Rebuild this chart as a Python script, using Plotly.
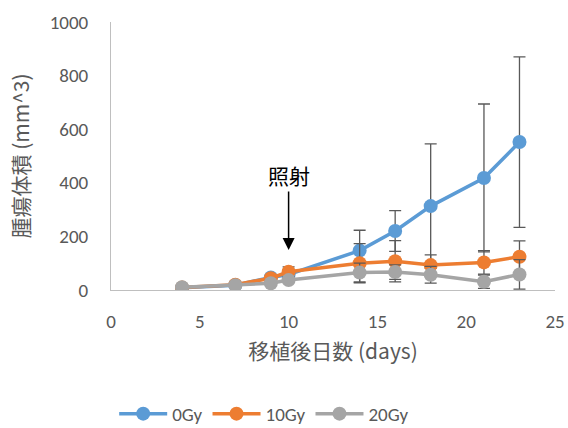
import plotly.graph_objects as go

# Tumour volume (mm^3) by days after implantation, mean ± error
days = [4, 7, 9, 10, 14, 16, 18, 21, 23]

gy0 = [8, 18, 47, 58, 147, 220, 313, 418, 552]
gy0_err = [3, 5, 10, 12, 76, 76, 232, 276, 318]

gy10 = [9, 20, 44, 68, 100, 107, 93, 103, 124]
gy10_err = [3, 5, 8, 18, 73, 77, 38, 44, 59]

gy20 = [10, 18, 25, 37, 65, 67, 57, 31, 58]
gy20_err = [3, 4, 6, 8, 35, 27, 31, 25, 55]

series_names = ["0Gy", "10Gy", "20Gy"]
colors = ["#5B9BD5", "#ED7D31", "#A5A5A5"]

x_ticks = [0, 5, 10, 15, 20, 25]
y_ticks = [0, 200, 400, 600, 800, 1000]

irradiation_day = 10
irradiation_label = "照射"

FONT = "Calibri, Carlito, Lato, 'Noto Sans CJK JP', sans-serif"
CJK = "'Noto Sans CJK JP', sans-serif"
TEXT_GREY = "#595959"

fig = go.Figure()
for name, vals, errs, col in zip(series_names, [gy0, gy10, gy20],
                                 [gy0_err, gy10_err, gy20_err], colors):
    fig.add_trace(go.Scatter(
        x=days, y=vals, name=name, mode="lines+markers",
        line=dict(color=col, width=3.5),
        marker=dict(color=col, size=14),
        error_y=dict(type="data", array=errs, visible=True,
                     color="#595959", thickness=1.3, width=6),
    ))

fig.add_annotation(
    x=irradiation_day, y=149, xref="x", yref="y",
    text=irradiation_label, showarrow=True,
    ax=0, ay=-75, arrowhead=2, arrowsize=1.6, arrowwidth=1.5,
    arrowcolor="#000000",
    font=dict(family=CJK, size=21, color="#000000"),
)

fig.update_layout(
    width=568, height=428,
    margin=dict(l=111, r=13, t=22, b=138, autoexpand=False),
    paper_bgcolor="white", plot_bgcolor="white",
    font=dict(family=FONT, color=TEXT_GREY, size=19),
    showlegend=True,
    legend=dict(orientation="h", x=0.345, xanchor="center",
                y=-0.462, yanchor="middle",
                font=dict(size=19, color=TEXT_GREY),
                itemwidth=48, tracegroupgap=0),
    xaxis=dict(range=[0, 25], tickvals=x_ticks, showgrid=False,
               zeroline=False, showline=True, linecolor="#BFBFBF",
               linewidth=1, ticks="", ticklabelstandoff=14,
               tickfont=dict(size=19),
               title=dict(text="移植後日数 (days)", standoff=12,
                          font=dict(family=CJK, size=21, color=TEXT_GREY))),
    yaxis=dict(range=[0, 1000], tickvals=y_ticks, showgrid=False,
               zeroline=False, showline=True, linecolor="#BFBFBF",
               linewidth=1, ticks="", ticklabelstandoff=18,
               tickfont=dict(size=19),
               title=dict(text="腫瘍体積 (mm^3)", standoff=14,
                          font=dict(family=CJK, size=21, color=TEXT_GREY))),
)

fig.write_html("out.html")
